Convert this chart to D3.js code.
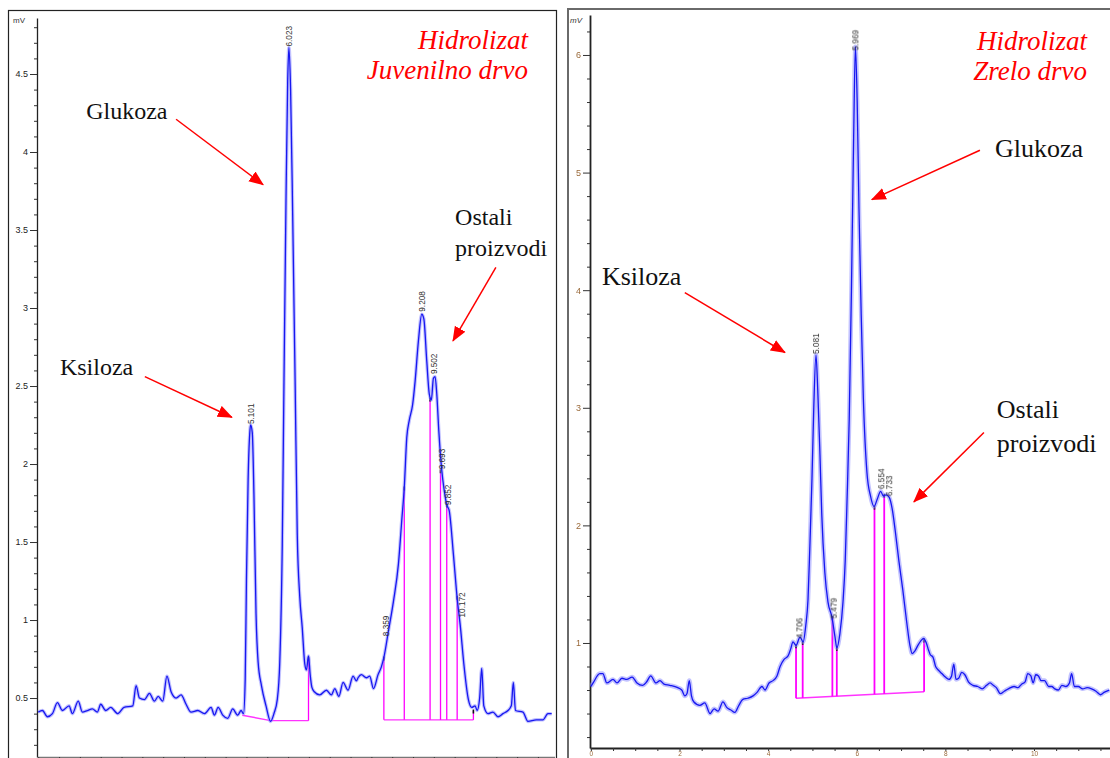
<!DOCTYPE html>
<html><head><meta charset="utf-8">
<script src="https://cdn.jsdelivr.net/npm/d3@7"></script>
<style>body{margin:0;background:#fff}svg{display:block}</style>
</head><body>
<svg id="c" width="1110" height="758"></svg>
<script>
// ---------------- DATA ----------------
// Left chromatogram: "Hidrolizat Juvenilno drvo"
const leftTime = [0.00,0.10,0.22,0.34,0.46,0.58,0.74,0.82,0.96,1.06,1.18,1.30,1.42,1.50,1.62,1.74,1.91,2.06,2.27,2.35,2.43,2.55,2.67,2.79,2.88,2.99,3.09,3.19,3.31,3.43,3.55,3.67,3.83,3.99,4.15,4.23,4.32,4.43,4.55,4.67,4.79,4.87,4.93,4.97,5.00,5.04,5.08,5.10,5.14,5.18,5.23,5.28,5.36,5.47,5.58,5.66,5.74,5.80,5.86,5.90,5.95,5.99,6.02,6.06,6.11,6.17,6.22,6.28,6.34,6.40,6.44,6.49,6.53,6.57,6.63,6.76,6.92,7.04,7.12,7.22,7.32,7.44,7.56,7.64,7.68,7.76,7.88,7.96,8.05,8.16,8.24,8.30,8.41,8.53,8.65,8.73,8.79,8.85,8.91,8.99,9.05,9.13,9.21,9.26,9.33,9.39,9.44,9.49,9.53,9.57,9.62,9.69,9.75,9.81,9.87,9.97,10.06,10.14,10.22,10.33,10.41,10.49,10.54,10.60,10.65,10.70,10.80,10.92,11.04,11.16,11.28,11.36,11.41,11.46,11.64,11.76,11.96,12.12,12.24,12.33];
const leftMv   = [0.41,0.42,0.38,0.40,0.47,0.42,0.45,0.40,0.48,0.41,0.42,0.43,0.41,0.46,0.42,0.44,0.40,0.44,0.45,0.58,0.50,0.49,0.53,0.48,0.51,0.48,0.64,0.54,0.50,0.52,0.46,0.41,0.42,0.40,0.44,0.39,0.44,0.39,0.37,0.43,0.39,0.42,0.40,0.62,1.26,1.90,2.20,2.25,2.20,1.80,1.04,0.73,0.58,0.45,0.35,0.40,0.49,0.73,1.48,2.50,3.70,4.45,4.67,4.40,3.60,2.50,1.55,1.15,0.95,0.72,0.68,0.77,0.65,0.57,0.54,0.52,0.55,0.52,0.56,0.51,0.60,0.55,0.64,0.61,0.63,0.65,0.63,0.64,0.56,0.65,0.70,0.76,0.93,1.12,1.36,1.64,1.85,2.17,2.28,2.38,2.53,2.79,2.96,2.93,2.66,2.45,2.41,2.55,2.56,2.45,2.21,1.96,1.83,1.74,1.70,1.42,1.14,0.95,0.72,0.49,0.44,0.45,0.42,0.50,0.69,0.45,0.40,0.41,0.38,0.40,0.42,0.45,0.60,0.42,0.41,0.35,0.36,0.36,0.40,0.40];
const leftPeakTimes  = [5.101,6.023,8.359,9.208,9.502,9.693,9.852,10.172];
const leftPeakLabelMv = [2.25,4.67,0.89,2.97,2.57,1.96,1.73,1.01];
const leftBaseTime = [4.90,5.58,6.49];
const leftBaseMv   = [0.39,0.355,0.355];
const leftBase2Time = [8.30,10.45];
const leftBase2Mv   = [0.36,0.36];
const leftDropTime = [6.49,8.30,8.79,9.41,9.66,9.81,10.06,10.45];
const leftDropTop  = [0.76,0.76,1.85,2.42,1.96,1.74,1.15,0.42];
const leftYTicks = [0.5,1,1.5,2,2.5,3,3.5,4,4.5];

// Right chromatogram: "Hidrolizat Zrelo drvo"
const rightTime = [0.00,0.05,0.20,0.27,0.36,0.50,0.59,0.70,0.81,0.93,1.04,1.17,1.26,1.35,1.47,1.56,1.65,1.78,1.96,2.05,2.12,2.17,2.22,2.27,2.32,2.46,2.57,2.69,2.78,2.87,2.98,3.07,3.16,3.25,3.34,3.43,3.54,3.66,3.75,3.86,3.93,4.02,4.11,4.20,4.27,4.36,4.45,4.51,4.56,4.63,4.72,4.79,4.85,4.90,4.94,4.99,5.03,5.08,5.12,5.17,5.21,5.28,5.35,5.44,5.51,5.55,5.62,5.69,5.74,5.78,5.83,5.88,5.93,5.97,6.01,6.05,6.10,6.15,6.23,6.31,6.39,6.46,6.54,6.60,6.66,6.73,6.80,6.87,6.95,7.04,7.13,7.20,7.25,7.31,7.38,7.45,7.51,7.57,7.62,7.66,7.72,7.78,7.84,7.92,8.00,8.08,8.14,8.19,8.24,8.30,8.37,8.44,8.52,8.62,8.73,8.83,8.93,9.01,9.08,9.15,9.24,9.33,9.42,9.55,9.64,9.72,9.80,9.86,9.93,9.98,10.04,10.10,10.16,10.24,10.33,10.40,10.47,10.55,10.63,10.72,10.80,10.85,10.91,11.00,11.10,11.20,11.30,11.40,11.50,11.58,11.70];
const rightMv   = [0.63,0.66,0.74,0.74,0.66,0.69,0.66,0.70,0.69,0.71,0.66,0.64,0.67,0.72,0.66,0.68,0.65,0.64,0.62,0.60,0.55,0.57,0.68,0.55,0.50,0.47,0.49,0.40,0.44,0.42,0.50,0.45,0.43,0.41,0.47,0.52,0.53,0.55,0.58,0.63,0.60,0.66,0.68,0.72,0.80,0.86,0.89,0.95,1.01,0.98,1.05,1.01,1.15,1.37,1.80,2.40,3.00,3.45,3.15,2.60,2.10,1.60,1.35,1.22,1.05,0.96,1.08,1.35,1.70,2.20,2.90,4.00,5.30,6.07,5.60,4.70,3.80,3.07,2.45,2.25,2.16,2.22,2.29,2.25,2.26,2.24,2.14,1.95,1.70,1.45,1.17,0.98,0.91,0.93,0.98,1.02,1.04,1.00,0.94,0.90,0.88,0.80,0.77,0.74,0.71,0.69,0.72,0.82,0.69,0.70,0.75,0.73,0.67,0.64,0.63,0.61,0.64,0.66,0.64,0.62,0.57,0.59,0.61,0.63,0.62,0.65,0.67,0.74,0.72,0.66,0.73,0.72,0.68,0.68,0.63,0.63,0.61,0.60,0.64,0.63,0.66,0.74,0.63,0.63,0.61,0.62,0.61,0.59,0.56,0.58,0.60];
const rightPeakTimes  = [4.706,5.081,5.479,5.969,6.554,6.733];
const rightPeakLabelMv = [1.03,3.45,1.20,6.03,2.30,2.24];
const rightBaseTime = [4.63,7.52];
const rightBaseMv   = [0.53,0.585];
const rightDropTime = [4.63,4.78,5.45,5.55,6.40,6.62,7.52];
const rightDropTop  = [0.98,1.01,1.22,0.96,2.16,2.26,1.03];
const rightYTicks = [1,2,3,4,5,6];
const rightXTickLabels = [0,2,4,6,8,10];

// Annotations (text anchored in data units of each panel)
const leftNotes = [
  {lines:["Glukoza"], t:1.15, v:4.21},
  {lines:["Ksiloza"], t:0.52, v:2.57},
  {lines:["Ostali","proizvodi"], t:10.01, v:3.53}
];
const leftArrows = [ {t1:3.31,v1:4.21,t2:5.40,v2:3.79}, {t1:2.56,v1:2.56,t2:4.65,v2:2.30}, {t1:10.99,v1:3.26,t2:9.96,v2:2.79} ];
const leftTitle = ["Hidrolizat","Juvenilno drvo"];
const rightNotes = [
  {lines:["Glukoza"], t:9.12, v:5.13},
  {lines:["Ksiloza"], t:0.25, v:4.04},
  {lines:["Ostali","proizvodi"], t:9.16, v:2.91}
];
const rightArrows = [ {t1:8.78,v1:5.19,t2:6.34,v2:4.77}, {t1:2.12,v1:3.98,t2:4.38,v2:3.47}, {t1:8.87,v1:2.79,t2:7.29,v2:2.20} ];
const rightTitle = ["Hidrolizat","Zrelo drvo"];

// ---------------- DRAW ----------------
const svg = d3.select("#c");
svg.append("rect").attr("width",1110).attr("height",758).attr("fill","#fff");
const defs = svg.append("defs");
defs.append("marker").attr("id","ah").attr("markerUnits","userSpaceOnUse")
  .attr("markerWidth",16).attr("markerHeight",14).attr("refX",14).attr("refY",6)
  .attr("orient","auto").append("path").attr("d","M0,0 L15,6 L0,12 Z").attr("fill","#ff0000");
defs.append("filter").attr("id","soft").append("feGaussianBlur").attr("stdDeviation",0.45);

// frames
svg.append("rect").attr("x",8.5).attr("y",10.5).attr("width",548).attr("height",800)
  .attr("fill","none").attr("stroke","#222").attr("stroke-width",1.2);
svg.append("rect").attr("x",568).attr("y",9).attr("width",600).attr("height",800)
  .attr("fill","none").attr("stroke","#6a6a6a").attr("stroke-width",2);

function panel(o){
  const g = svg.append("g");
  const x = d3.scaleLinear().domain(o.xDom).range(o.xRange);
  const y = d3.scaleLinear().domain(o.yDom).range(o.yRange);
  const clipId = "clip"+o.id;
  defs.append("clipPath").attr("id",clipId).append("rect")
    .attr("x",o.xRange[0]).attr("y",o.yRange[1]-10).attr("width",o.xRange[1]-o.xRange[0]).attr("height",o.yRange[0]-o.yRange[1]+10);

  // y minor ticks
  const yMinor = d3.range(o.minorStart, o.yDom[1], o.minorStep).filter(v=>!o.yTicks.some(t=>Math.abs(t-v)<1e-6));
  g.append("g").attr("transform",`translate(${o.xRange[0]},0)`)
    .call(d3.axisLeft(y).tickValues(yMinor).tickSize(3).tickFormat("").tickSizeOuter(0))
    .call(s=>s.select(".domain").remove())
    .call(s=>s.selectAll("line").attr("stroke","#333"));
  // y major
  const ya = g.append("g").attr("transform",`translate(${o.xRange[0]},0)`)
    .call(d3.axisLeft(y).tickValues(o.yTicks).tickSize(7).tickPadding(2).tickSizeOuter(0).tickFormat(d3.format("")));
  ya.select(".domain").attr("stroke","#222").attr("stroke-width",o.axisW);
  ya.selectAll("line").attr("stroke","#333");
  ya.selectAll("text").attr("font-family","Liberation Sans, Arial").attr("font-size",9).attr("fill",o.tickColor)
    .attr("filter",o.soft?"url(#soft)":null);
  // x axis
  const xTicks = d3.range(0, o.xDom[1], 0.5);
  const xa = g.append("g").attr("transform",`translate(0,${o.yRange[0]})`)
    .call(d3.axisBottom(x).tickValues(xTicks).tickSize(3).tickPadding(0).tickSizeOuter(0)
      .tickFormat(d=> o.xLabels.includes(d)? String(d):""));
  xa.select(".domain").attr("stroke",o.xAxisColor).attr("stroke-width",o.axisW);
  xa.selectAll("line").attr("stroke","#333");
  xa.selectAll("text").attr("font-family","Liberation Sans, Arial").attr("font-size",6.5).attr("fill",o.tickColor)
    .attr("filter",o.soft?"url(#soft)":null);
  // mV label
  g.append("text").attr("x",o.mvX).attr("y",o.mvY).text("mV").attr("font-family","Liberation Sans, Arial")
    .attr("font-size",8).attr("font-style",o.soft?"italic":"normal").attr("fill","#333");

  const plot = g.append("g").attr("clip-path",`url(#${clipId})`);
  // baselines (magenta)
  o.bases.forEach(b=>{
    plot.append("path").datum(d3.zip(b[0],b[1]))
      .attr("d",d3.line().x(d=>x(d[0])).y(d=>y(d[1])))
      .attr("fill","none").attr("stroke","#ff33ff").attr("stroke-width",1.4);
  });
  // drop lines
  const baseAt = t => { for(const b of o.bases){ if(t>=b[0][0]-1e-6 && t<=b[0][b[0].length-1]+1e-6){
      for(let i=0;i<b[0].length-1;i++){ if(t<=b[0][i+1]+1e-6){ const f=(t-b[0][i])/(b[0][i+1]-b[0][i]||1); return b[1][i]+f*(b[1][i+1]-b[1][i]);} } } }
      return o.bases[0][1][0]; };
  plot.selectAll(".drop").data(d3.zip(o.dropT,o.dropTop)).join("line")
    .attr("x1",d=>x(d[0])).attr("x2",d=>x(d[0]))
    .attr("y1",d=>y(baseAt(d[0]))).attr("y2",d=>y(d[1]))
    .attr("stroke","#ff00ff").attr("stroke-width",o.dropW);
  plot.selectAll(".mk").data(d3.zip(o.dropT,o.dropTop)).join("line")
    .attr("x1",d=>x(d[0])).attr("x2",d=>x(d[0]))
    .attr("y1",d=>y(d[1])-1).attr("y2",d=>y(d[1])+3)
    .attr("stroke","#111").attr("stroke-width",1.6);
  // trace
  const pts = d3.zip(o.time,o.mv);
  const line = d3.line().x(d=>x(d[0])).y(d=>y(d[1])).curve(d3.curveMonotoneX);
  plot.append("path").datum(pts).attr("d",line).attr("fill","none")
    .attr("stroke","#8f8fff").attr("stroke-opacity",0.55).attr("stroke-width",o.glowW).attr("stroke-linejoin","round");
  plot.append("path").datum(pts).attr("d",line).attr("fill","none")
    .attr("stroke","#1717f0").attr("stroke-width",1.3).attr("stroke-linejoin","round");
  // peak labels
  g.selectAll(".pl").data(d3.zip(o.peakT,o.peakV)).join("text")
    .attr("transform",d=>`translate(${x(d[0])},${y(d[1])-1}) rotate(-90)`)
    .attr("dy","0.35em").attr("text-anchor","start")
    .attr("font-family","Liberation Sans, Arial").attr("font-size",8.2).attr("fill","#333")
    .attr("filter",o.soft?"url(#soft)":null)
    .text(d=>d[0].toFixed(3));
  // annotations
  o.notes.forEach(n=>{
    const tx = g.append("text").attr("x",x(n.t)).attr("y",y(n.v))
      .attr("font-family","Liberation Serif, Times New Roman, serif").attr("font-size",o.noteSize).attr("fill","#111");
    n.lines.forEach((l,i)=>tx.append("tspan").attr("x",x(n.t)).attr("dy",i?o.noteLead:0).text(l));
  });
  o.arrows.forEach(a=>{
    g.append("line").attr("x1",x(a.t1)).attr("y1",y(a.v1)).attr("x2",x(a.t2)).attr("y2",y(a.v2))
      .attr("stroke","#ff0000").attr("stroke-width",1.5).attr("marker-end","url(#ah)");
  });
  const tt = g.append("text").attr("text-anchor","end")
    .attr("font-family","Liberation Serif, Times New Roman, serif").attr("font-style","italic")
    .attr("font-size",o.titleSize).attr("fill","#ff0000");
  o.title.forEach((l,i)=>tt.append("tspan").attr("x",o.titleX).attr("y",o.titleY[i]).text(l));
}

panel({id:"L", xDom:[-0.03,12.4], xRange:[37,554.6], yDom:[0.122,4.859], yRange:[757,18],
  yTicks:leftYTicks, minorStart:0.2, minorStep:0.1, xLabels:[], tickColor:"#222", soft:false,
  axisW:1.3, xAxisColor:"#777", mvX:13, mvY:23,
  time:leftTime, mv:leftMv, peakT:leftPeakTimes, peakV:leftPeakLabelMv,
  bases:[[leftBaseTime,leftBaseMv],[leftBase2Time,leftBase2Mv]],
  dropT:leftDropTime, dropTop:leftDropTop, dropW:1.3, glowW:3.5,
  notes:leftNotes, arrows:leftArrows, noteSize:24, noteLead:31,
  title:leftTitle, titleX:528, titleY:[49,79], titleSize:27});

panel({id:"R", xDom:[-0.02,11.72], xRange:[590,1110.2], yDom:[0.107,6.34], yRange:[748,15],
  yTicks:rightYTicks, minorStart:0.2, minorStep:0.2, xLabels:rightXTickLabels, tickColor:"#9a6a3a", soft:true,
  axisW:1.8, xAxisColor:"#222", mvX:570, mvY:23,
  time:rightTime, mv:rightMv, peakT:rightPeakTimes, peakV:rightPeakLabelMv,
  bases:[[rightBaseTime,rightBaseMv]],
  dropT:rightDropTime, dropTop:rightDropTop, dropW:1.8, glowW:4.5,
  notes:rightNotes, arrows:rightArrows, noteSize:26, noteLead:34,
  title:rightTitle, titleX:1087, titleY:[50,80], titleSize:27});
</script>
</body></html>
